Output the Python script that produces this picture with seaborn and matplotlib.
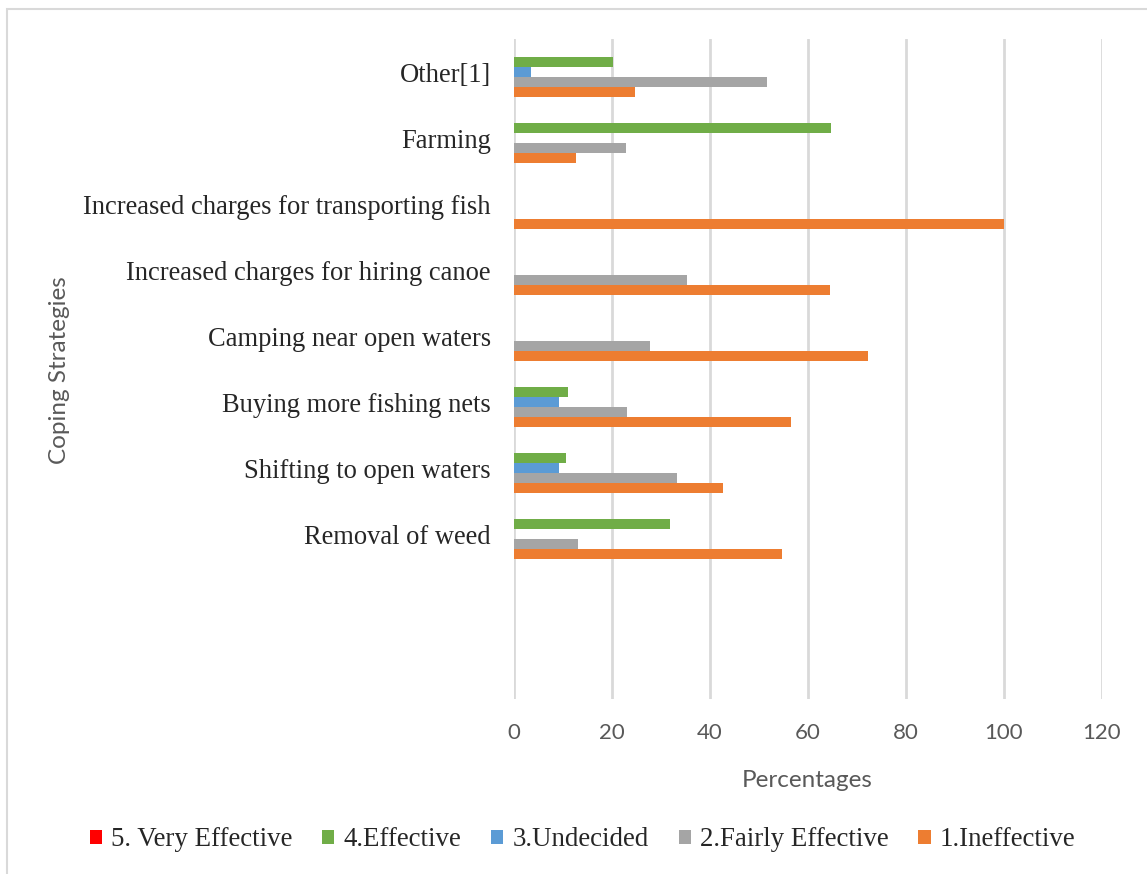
import numpy as np
import pandas as pd
import matplotlib
matplotlib.use('Agg')
import matplotlib.pyplot as plt
import seaborn as sns
from matplotlib.patches import Patch, Rectangle

sns.set_style('white')

strategies = ['Other[1]', 'Farming', 'Increased charges for transporting fish',
              'Increased charges for hiring canoe', 'Camping near open waters',
              'Buying more fishing nets', 'Shifting to open waters', 'Removal of weed']
blank_slots = [' ', '  ']

levels = ['5. Very Effective', '4.Effective', '3.Undecided',
          '2.Fairly Effective', '1.Ineffective']
colors = ['#FF0000', '#70AD47', '#5B9BD5', '#A5A5A5', '#ED7D31']

very_effective = [0, 0, 0, 0, 0, 0, 0, 0]
effective = [20.2, 64.7, 0, 0, 0, 11.0, 10.5, 31.9]
undecided = [3.5, 0, 0, 0, 0, 9.2, 9.2, 0]
fairly_effective = [51.6, 22.8, 0, 35.3, 27.8, 23.1, 33.3, 13.1]
ineffective = [24.7, 12.6, 100, 64.4, 72.3, 56.5, 42.6, 54.7]

x_ticks = [0, 20, 40, 60, 80, 100, 120]

series = [very_effective, effective, undecided, fairly_effective, ineffective]
df = pd.DataFrame({
    'strategy': strategies * len(levels),
    'rating': np.repeat(levels, len(strategies)),
    'pct': np.concatenate(series),
})

fig = plt.figure(figsize=(11.47, 8.74), dpi=100)
ax = fig.add_axes([514.3 / 1147, 1 - 699 / 874, 587.4 / 1147, 660 / 874])

sns.barplot(data=df, x='pct', y='strategy', hue='rating',
            order=strategies + blank_slots, hue_order=levels,
            palette=colors, saturation=1, width=0.75, gap=0,
            errorbar=None, linewidth=0, legend=False, ax=ax)

ax.set_xlim(0, 120)
ax.set_xticks(x_ticks)
ax.set_ylim(len(strategies) + len(blank_slots) - 0.5, -0.5)
ax.grid(axis='x', color='#d9d9d9', linewidth=2)
ax.set_axisbelow(True)
for s in ax.spines.values():
    s.set_visible(False)

ax.set_xlabel('')
ax.set_ylabel('')
ax.tick_params(axis='x', length=0, pad=17, labelsize=16, labelcolor='#595959')
ax.tick_params(axis='y', length=0, pad=17, labelsize=19.1)
for lbl in ax.get_xticklabels():
    lbl.set_family('Lato')
for lbl in ax.get_yticklabels():
    lbl.set_family('Liberation Serif')

fig.text(807 / 1147, 1 - 787 / 874, 'Percentages', ha='center', va='baseline',
         fontsize=17.5, color='#595959', family='Lato')
fig.text(59 / 1147, 1 - 370 / 874, 'Coping Strategies', ha='center', va='center',
         rotation=90, fontsize=17.5, color='#595959', family='Lato')

handles = [Patch(facecolor=c, edgecolor='none') for c in colors]
fig.legend(handles, levels, loc='center', bbox_to_anchor=(0.508, 1 - 840 / 874),
           ncol=5, frameon=False, handlelength=0.45, handleheight=0.45,
           handletextpad=0.35, columnspacing=1.1,
           prop={'family': 'Liberation Serif', 'size': 19.4})

fig.patches.append(Rectangle((7 / 1147, -0.05), 1.2, 1 - 9 / 874 + 0.05,
                             transform=fig.transFigure, fill=False,
                             edgecolor='#d9d9d9', linewidth=1.5))

fig.savefig('out.png', dpi=100)
